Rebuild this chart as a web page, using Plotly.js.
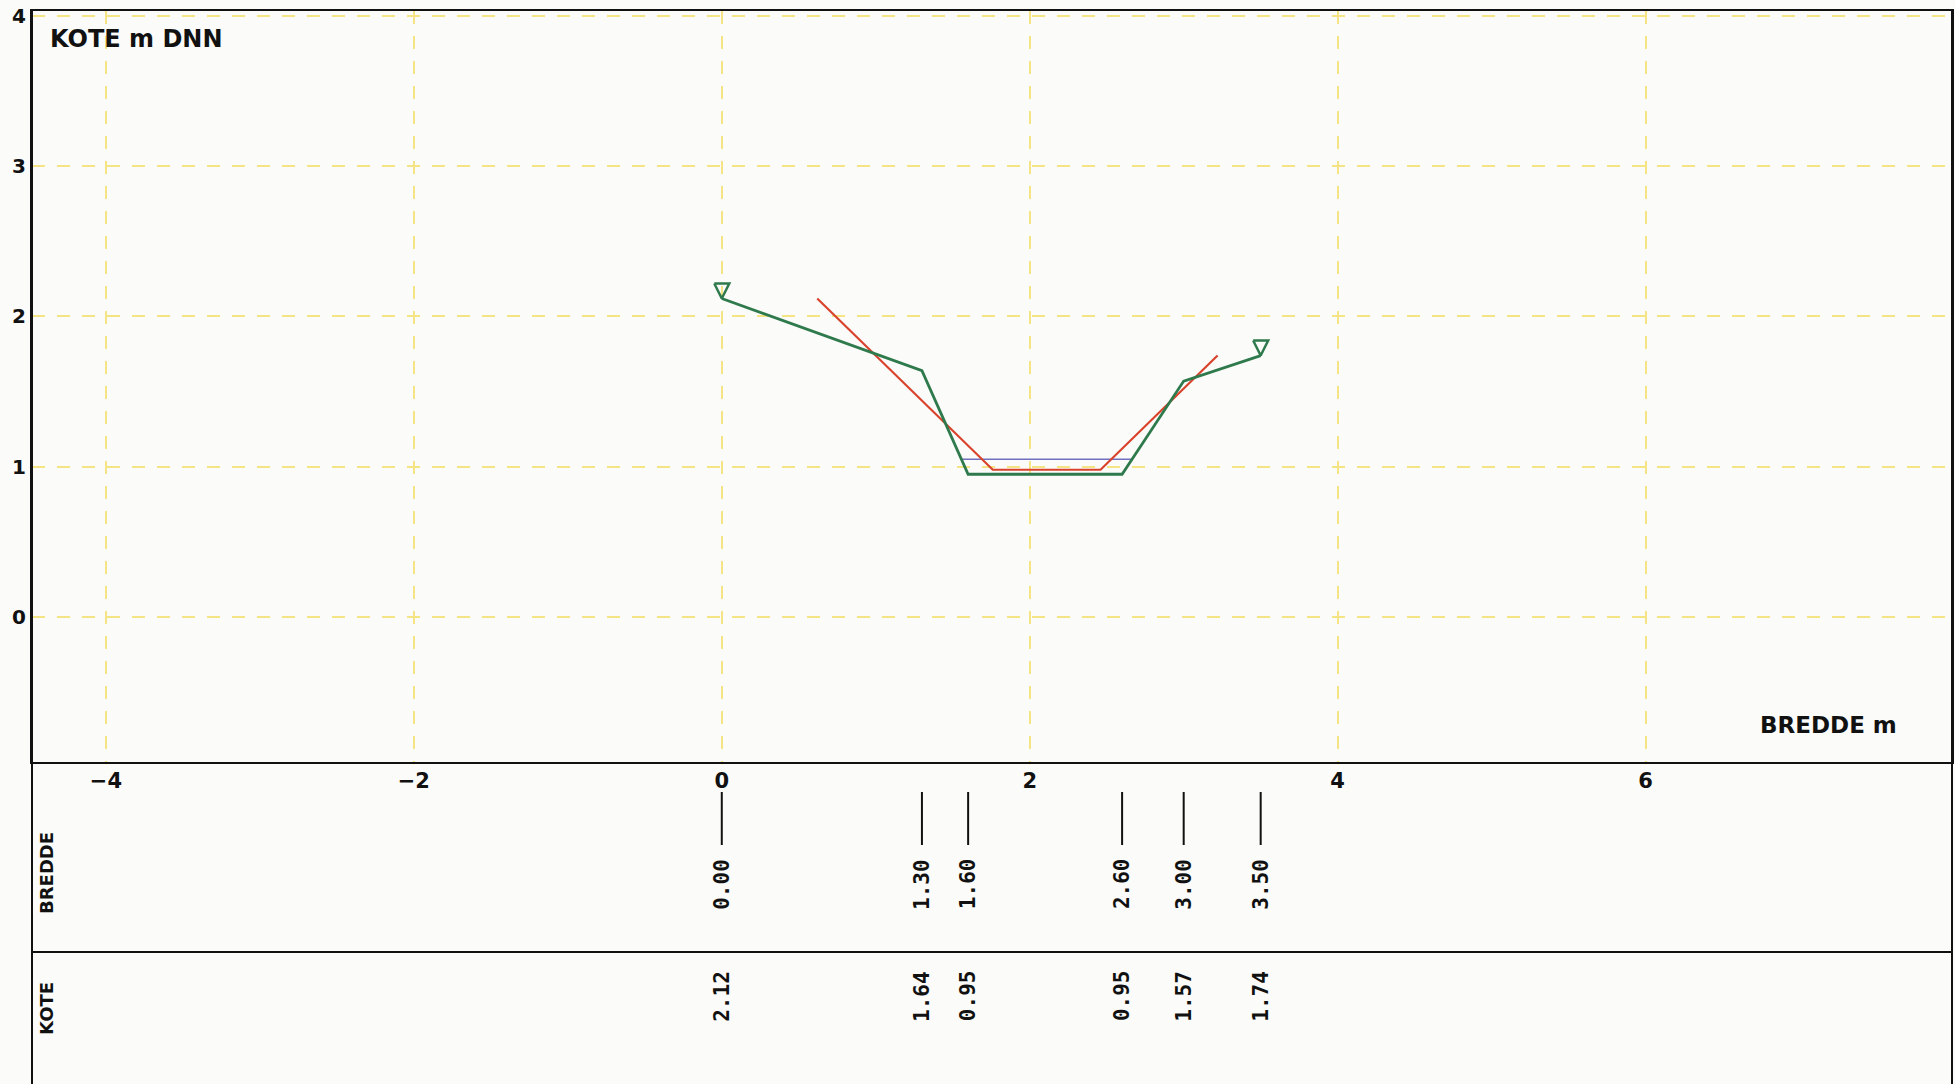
<!DOCTYPE html>
<html><head><meta charset="utf-8">
<script src="https://cdn.plot.ly/plotly-3.0.1.min.js"></script>
<style>html,body{margin:0;padding:0;background:#fbfbf9;}#chart{width:1955px;height:1084px;}</style>
</head><body><div id="chart"></div>
<script>
// ---- data ----
const bredde = [0.00, 1.30, 1.60, 2.60, 3.00, 3.50];
const kote = [2.12, 1.64, 0.95, 0.95, 1.57, 1.74];
const breddeLabels = ["0.00", "1.30", "1.60", "2.60", "3.00", "3.50"];
const koteLabels = ["2.12", "1.64", "0.95", "0.95", "1.57", "1.74"];
const designX = [0.62, 1.76, 2.46, 3.22];
const designY = [2.12, 0.98, 0.98, 1.74];
const waterX = [1.56, 2.66];
const waterY = [1.05, 1.05];
const xTickVals = [-4, -2, 0, 2, 4, 6];
const yTickVals = [0, 1, 2, 3, 4];
const yTitle = "KOTE m DNN";
const xTitle = "BREDDE m";
const rowLabels = ["BREDDE", "KOTE"];

// ---- layout geometry ----
const W = 1955, H = 1084;
const M = {l: 32, r: 3, t: 11, b: 322};
const plotW = W - M.l - M.r, plotH = H - M.t - M.b;
const xRange = [-4.48, 7.99];
const yRange = [-0.965, 4.033];
const pxX = plotW / (xRange[1] - xRange[0]);
const pxY = plotH / (yRange[1] - yRange[0]);
const bottomPx = H - M.b;
const py = p => (bottomPx - p) / plotH;   // page pixel y -> paper y
const pxp = p => (p - M.l) / plotW;       // page pixel x -> paper x

const green = '#2f7a4c', red = '#d9432c', blue = '#7070bf';
const fontFam = 'DejaVu Sans, sans-serif';

// triangle markers at profile ends (apex at point)
function triangle(x, y) {
  const dx = 7.5 / pxX, dy = 15 / pxY;
  return {x: [x - dx, x + dx, x, x - dx], y: [y + dy, y + dy, y, y + dy]};
}
const ends = [0, bredde.length - 1];
const triTraces = ends.map(i => {
  const t = triangle(bredde[i], kote[i]);
  return {type: 'scatter', mode: 'lines', x: t.x, y: t.y,
    line: {color: green, width: 2.5}, hoverinfo: 'skip', showlegend: false};
});

const traces = [
  {type: 'scatter', mode: 'lines', x: waterX, y: waterY, line: {color: blue, width: 1.5}, showlegend: false},
  {type: 'scatter', mode: 'lines', x: designX, y: designY, line: {color: red, width: 2.2}, showlegend: false},
  {type: 'scatter', mode: 'lines', x: bredde, y: kote, line: {color: green, width: 2.8}, showlegend: false},
  ...triTraces
];

const shapes = [
  {type: 'line', xref: 'paper', yref: 'paper', x0: 0, x1: 0, y0: py(H), y1: 1, line: {color: '#111', width: 2}},
  {type: 'line', xref: 'paper', yref: 'paper', x0: 1, x1: 1, y0: py(H), y1: 1, line: {color: '#111', width: 2}},
  {type: 'line', xref: 'paper', yref: 'paper', x0: 0, x1: 1, y0: py(952), y1: py(952), line: {color: '#111', width: 2}}
];
bredde.forEach(b => shapes.push({type: 'line', xref: 'x', yref: 'paper', x0: b, x1: b,
  y0: py(792), y1: py(845), line: {color: '#111', width: 2}}));

const numFont = {family: 'DejaVu Sans Mono, monospace', size: 21, weight: 'bold', color: '#111'};
const annotations = [
  {text: yTitle, xref: 'paper', yref: 'paper', x: pxp(48), y: py(39), xanchor: 'left', yanchor: 'middle',
   showarrow: false, font: {family: fontFam, size: 24, weight: 'bold', color: '#111'}},
  {text: xTitle, xref: 'paper', yref: 'paper', x: pxp(1758), y: py(725), xanchor: 'left', yanchor: 'middle',
   showarrow: false, font: {family: fontFam, size: 23, weight: 'bold', color: '#111'}},
  {text: rowLabels[0], xref: 'paper', yref: 'paper', x: pxp(46), y: py(873), xanchor: 'center', yanchor: 'middle',
   textangle: -90, showarrow: false, font: {family: fontFam, size: 18, weight: 'bold', color: '#111'}},
  {text: rowLabels[1], xref: 'paper', yref: 'paper', x: pxp(46), y: py(1009), xanchor: 'center', yanchor: 'middle',
   textangle: -90, showarrow: false, font: {family: fontFam, size: 18, weight: 'bold', color: '#111'}}
];
bredde.forEach((b, i) => {
  annotations.push({text: breddeLabels[i], xref: 'x', yref: 'paper', x: b, y: py(884), xanchor: 'center', yanchor: 'middle',
    textangle: -90, showarrow: false, font: numFont});
  annotations.push({text: koteLabels[i], xref: 'x', yref: 'paper', x: b, y: py(996), xanchor: 'center', yanchor: 'middle',
    textangle: -90, showarrow: false, font: numFont});
});

const gridStyle = {showgrid: true, gridcolor: '#f5e484', gridwidth: 2, griddash: '13px,12px'};

const layout = {
  width: W, height: H,
  margin: M,
  paper_bgcolor: '#fbfbf9', plot_bgcolor: '#fbfbf9',
  showlegend: false,
  xaxis: Object.assign({range: xRange, tickmode: 'array', tickvals: xTickVals, ticks: '', zeroline: false,
    showline: true, linecolor: '#111', linewidth: 2, mirror: true,
    tickfont: {family: fontFam, size: 21, weight: 'bold', color: '#111'}, ticklabelstandoff: -1}, gridStyle),
  yaxis: Object.assign({range: yRange, tickmode: 'array', tickvals: yTickVals, ticks: '', zeroline: false,
    showline: true, linecolor: '#111', linewidth: 2, mirror: true,
    tickfont: {family: fontFam, size: 20, weight: 'bold', color: '#111'}, ticklabelstandoff: 0}, gridStyle),
  shapes: shapes,
  annotations: annotations
};

Plotly.newPlot('chart', traces, layout, {staticPlot: true, displayModeBar: false});
</script>
</body></html>
